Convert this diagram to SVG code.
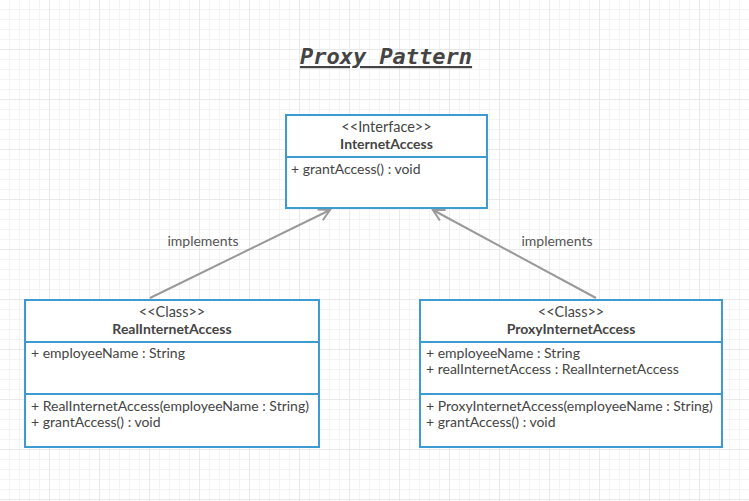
<svg xmlns="http://www.w3.org/2000/svg" width="749" height="501" viewBox="0 0 749 501">
<defs>
<pattern id="minor" width="10" height="10" patternUnits="userSpaceOnUse">
<path d="M9.5 0V10M0 9.5H10" fill="none" stroke="#f4f4f4" stroke-width="1"/>
</pattern>
<pattern id="major" width="50" height="50" patternUnits="userSpaceOnUse">
<path d="M49.5 0V50M0 49.5H50" fill="none" stroke="#e9e9e9" stroke-width="1"/>
</pattern>
<marker id="open" viewBox="0 0 14 14" refX="12" refY="7" markerWidth="14" markerHeight="14" markerUnits="userSpaceOnUse" orient="auto">
<path d="M1 1L12 7L1 13" fill="none" stroke="#999" stroke-width="2"/>
</marker>
<style>
.box{fill:#fff;stroke:#3d9bd3;stroke-width:2}
.div{stroke:#3d9bd3;stroke-width:2}
.t{font-family:Lato,"Open Sans",sans-serif;font-size:14px;fill:#444}
.b{font-weight:bold}
.m{text-anchor:middle}
.s{font-size:14.5px}
.con{stroke:#999;stroke-width:2;fill:none}
.lbl{font-family:Lato,"Open Sans",sans-serif;font-size:14px;fill:#555}
</style>
</defs>
<rect width="749" height="501" fill="#fff"/>
<rect width="749" height="501" fill="url(#minor)"/>
<rect width="749" height="501" fill="url(#major)"/>
<g id="title">
<text x="386" y="64" text-anchor="middle" font-family="DejaVu Sans Mono,Liberation Mono,monospace" font-size="22" font-weight="bold" font-style="italic" fill="#444" text-decoration="underline">Proxy Pattern</text>
</g>
<g id="connectors">
<line class="con" x1="150" y1="298" x2="330" y2="210" marker-end="url(#open)"/>
<line class="con" x1="596" y1="298" x2="433" y2="210" marker-end="url(#open)"/>
<text class="lbl" x="203" y="246" text-anchor="middle">implements</text>
<text class="lbl" x="557" y="246" text-anchor="middle">implements</text>
</g>
<g id="InternetAccess">
<rect class="box" x="286" y="115" width="201" height="93"/>
<line class="div" x1="286" y1="157" x2="487" y2="157"/>
<text class="t m s" x="386.5" y="132">&lt;&lt;Interface&gt;&gt;</text>
<text class="t m b" x="386.5" y="149">InternetAccess</text>
<text class="t" x="291" y="174">+ grantAccess() : void</text>
</g>
<g id="RealInternetAccess">
<rect class="box" x="25" y="300" width="294" height="147"/>
<line class="div" x1="25" y1="342" x2="319" y2="342"/>
<line class="div" x1="25" y1="394" x2="319" y2="394"/>
<text class="t m s" x="172" y="317">&lt;&lt;Class&gt;&gt;</text>
<text class="t m b" x="172" y="334">RealInternetAccess</text>
<text class="t" x="31" y="358">+ employeeName : String</text>
<text class="t" x="31" y="411">+ RealInternetAccess(employeeName : String)</text>
<text class="t" x="31" y="427">+ grantAccess() : void</text>
</g>
<g id="ProxyInternetAccess">
<rect class="box" x="420" y="300" width="302" height="147"/>
<line class="div" x1="420" y1="342" x2="722" y2="342"/>
<line class="div" x1="420" y1="394" x2="722" y2="394"/>
<text class="t m s" x="571" y="317">&lt;&lt;Class&gt;&gt;</text>
<text class="t m b" x="571" y="334">ProxyInternetAccess</text>
<text class="t" x="426" y="358">+ employeeName : String</text>
<text class="t" x="426" y="374">+ realInternetAccess : RealInternetAccess</text>
<text class="t" x="426" y="411">+ ProxyInternetAccess(employeeName : String)</text>
<text class="t" x="426" y="427">+ grantAccess() : void</text>
</g>
</svg>
